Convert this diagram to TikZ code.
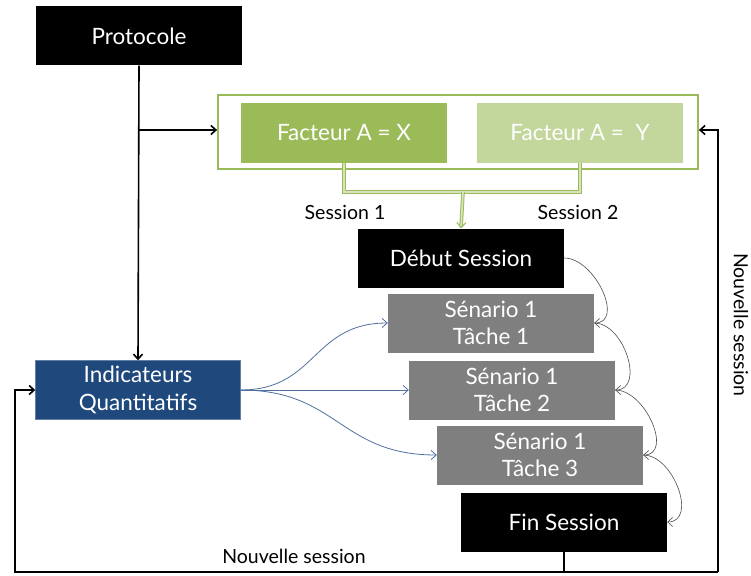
\documentclass[tikz,border=0pt]{standalone}
\usepackage{fontspec}
\setmainfont{Lato}
\usetikzlibrary{arrows.meta}
\definecolor{gA}{HTML}{9BBB59}
\definecolor{gB}{HTML}{C3D69B}
\definecolor{gC}{HTML}{D7E4BD}
\definecolor{blu}{HTML}{1F497D}
\definecolor{arrblu}{HTML}{4F6F9F}
\definecolor{gry}{HTML}{7F7F7F}
\begin{document}
\begin{tikzpicture}[x=1pt,y=1pt,
  box/.style={inner sep=0pt, minimum width=206pt, minimum height=59pt, align=center, text=white, font=\fontsize{22.5}{27.5}\selectfont},
  blk/.style={box, fill=black},
  grybox/.style={box, fill=gry},
  lbl/.style={font=\fontsize{19.5}{22}\selectfont, text=black},
  main/.style={draw=black, line width=1.6pt, -{Straight Barb[length=5pt,width=9pt]}},
  link/.style={draw=black!70, line width=0.6pt, -{Straight Barb[length=5pt,width=9pt]}},
  blink/.style={draw=arrblu, line width=0.8pt, -{Straight Barb[length=5pt,width=9pt]}},
  glink/.style={draw=gA, double=gC, double distance=1.6pt, line width=1pt}
]
\useasboundingbox (0,0) rectangle (751,-575);

\node[blk] (proto) at (139,-36) {Protocole};
\node[draw=gA, line width=1.8pt, minimum width=480pt, minimum height=74pt, inner sep=0pt] (cont) at (458,-132) {};
\node[box, fill=gA, minimum height=59pt] (fx) at (344,-133) {Facteur A = X};
\node[box, fill=gB, minimum height=59pt] (fy) at (580,-133) {Facteur A =~~Y};

\node[blk] (deb) at (461,-258) {Début Session};
\node[grybox] (t1) at (491,-323) {Sénario 1\\Tâche 1};
\node[grybox] (t2) at (512,-390) {Sénario 1\\Tâche 2};
\node[grybox] (t3) at (540,-455) {Sénario 1\\Tâche 3};
\node[blk] (fin) at (564,-522) {Fin Session};
\node[box, fill=blu, draw=blu!70, minimum width=205pt] (ind) at (138,-390) {Indicateurs\\Quantitatifs};

\node[lbl] (s1) at (345,-212) {Session 1};
\node[lbl] (s2) at (578,-212) {Session 2};
\node[lbl] (ns1) at (294,-556) {Nouvelle session};
\node[lbl, rotate=-90] (ns2) at (741,-325) {Nouvelle session};

% green merge
\coordinate (gm) at (463,-192);
\draw[glink] (fx.south) |- (gm);
\draw[glink] (fy.south) |- (gm);
\draw[glink, -{Straight Barb[length=5pt,width=9pt]}] (gm) -- (deb.north);

% Protocole
\coordinate (pb) at (139,-130);
\draw[main] (proto.south) -- (ind.north);
\draw[main] (pb) -- (pb -| cont.west);

% Nouvelle session loop
\coordinate (bl) at (15,-572);
\coordinate (br) at (718,-572);
\coordinate (rt) at (718,-130);
\draw[line width=1.6pt] (fin.south) -- (564,-572);
\draw[main] (br) -- (bl) |- (ind.west);
\draw[main] (br) -- (rt) -- (rt -| cont.east);

% gray chain
\draw[link] (deb.east) to[out=0,in=0,looseness=1.1] (t1.east);
\draw[link] (t1.east) to[out=0,in=0,looseness=1.1] (t2.east);
\draw[link] (t2.east) to[out=0,in=0,looseness=1.1] (t3.east);
\draw[link] (t3.east) to[out=0,in=0,looseness=1.1] (fin.east);

% blue links
\draw[blink] (ind.east) to[out=0,in=180,looseness=1.2] (t1.west);
\draw[blink] (ind.east) -- (t2.west);
\draw[blink] (ind.east) to[out=0,in=180,looseness=1.2] (t3.west);
\end{tikzpicture}
\end{document}
